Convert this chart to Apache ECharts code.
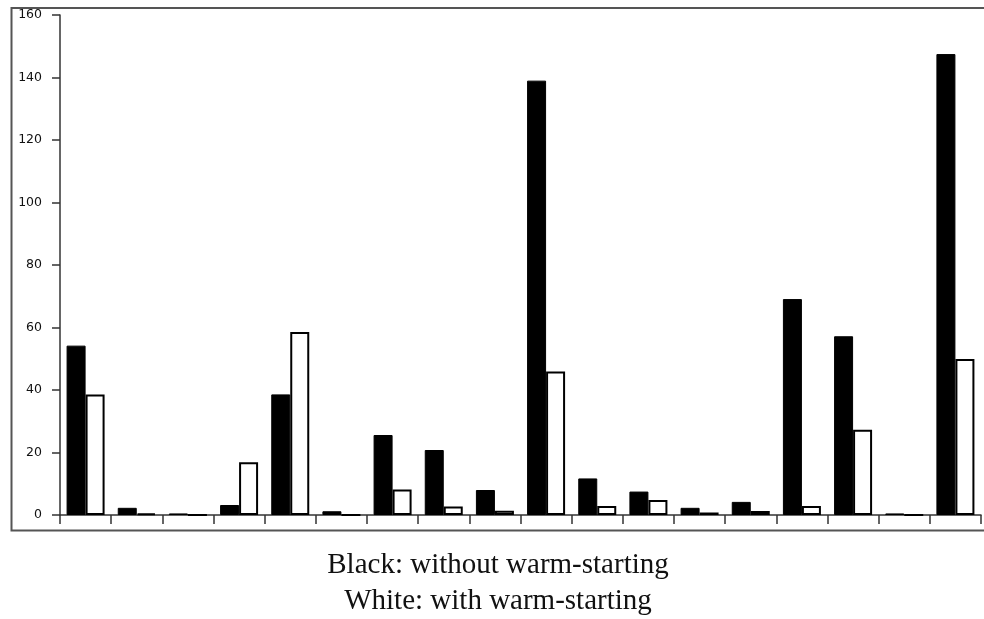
<!DOCTYPE html>
<html>
<head>
<meta charset="utf-8">
<title>Warm-starting comparison</title>
<script src="https://cdn.jsdelivr.net/npm/echarts@6/dist/echarts.min.js"></script>
<style>
  html, body { margin: 0; padding: 0; background: #fff; }
  #chart { width: 984px; height: 619px; }
</style>
</head>
<body>
<div id="chart"></div>
<script>
// One group of two bars per problem instance
const categories = ['1', '2', '3', '4', '5', '6', '7', '8', '9', '10', '11', '12', '13', '14', '15', '16', '17', '18'];
const withoutWarmStart = [54.2, 2.3, 0.5, 3.2, 38.6, 1.2, 25.6, 20.8, 8.0, 139.0, 11.7, 7.5, 2.3, 4.2, 69.1, 57.2, 0.5, 147.5];
const withWarmStart    = [38.6, 0.5, 0, 16.9, 58.6, 0, 8.2, 2.7, 1.4, 45.9, 2.9, 4.8, 0.8, 1.3, 2.9, 27.3, 0, 49.9];
const yTicks = { min: 0, max: 160, interval: 20 };

const chart = echarts.init(document.getElementById('chart'), null, { renderer: 'canvas' });

const axisColor = '#333';

chart.setOption({
  animation: false,
  backgroundColor: '#fff',
  grid: { left: 60, right: 3, top: 15, bottom: 104, containLabel: false },
  xAxis: {
    type: 'category',
    data: categories,
    boundaryGap: true,
    axisLine: { show: true, lineStyle: { color: axisColor, width: 1.5 } },
    axisTick: { show: true, inside: false, length: 9, alignWithLabel: false, lineStyle: { color: axisColor, width: 1.5 } },
    axisLabel: { show: false },
    splitLine: { show: false }
  },
  yAxis: {
    type: 'value',
    min: yTicks.min,
    max: yTicks.max,
    interval: yTicks.interval,
    axisLine: { show: true, lineStyle: { color: axisColor, width: 1.5 } },
    axisTick: { show: true, inside: false, length: 8, lineStyle: { color: axisColor, width: 1.5 } },
    axisLabel: { color: '#111', fontFamily: 'DejaVu Sans', fontSize: 12.5, margin: 18 },
    splitLine: { show: false }
  },
  series: [
    {
      name: 'Black: without warm-starting',
      type: 'bar',
      data: withoutWarmStart,
      barWidth: 19,
      barGap: '0%',
      itemStyle: { color: '#000', borderColor: '#000', borderWidth: 1 }
    },
    {
      name: 'White: with warm-starting',
      type: 'bar',
      data: withWarmStart,
      barWidth: 19,
      barGap: '0%',
      itemStyle: { color: '#fff', borderColor: '#000', borderWidth: 2 }
    }
  ],
  graphic: [
    {
      type: 'rect',
      silent: true,
      shape: { x: 11.5, y: 8, width: 990, height: 522.5 },
      style: { fill: 'none', stroke: '#555', lineWidth: 2 },
      z: 100
    },
    {
      type: 'text',
      x: 498,
      y: 551,
      style: {
        text: 'Black: without warm-starting',
        font: '29px "Liberation Serif"',
        fill: '#111',
        align: 'center',
        verticalAlign: 'top'
      }
    },
    {
      type: 'text',
      x: 498,
      y: 587,
      style: {
        text: 'White: with warm-starting',
        font: '29px "Liberation Serif"',
        fill: '#111',
        align: 'center',
        verticalAlign: 'top'
      }
    }
  ]
});
</script>
</body>
</html>
